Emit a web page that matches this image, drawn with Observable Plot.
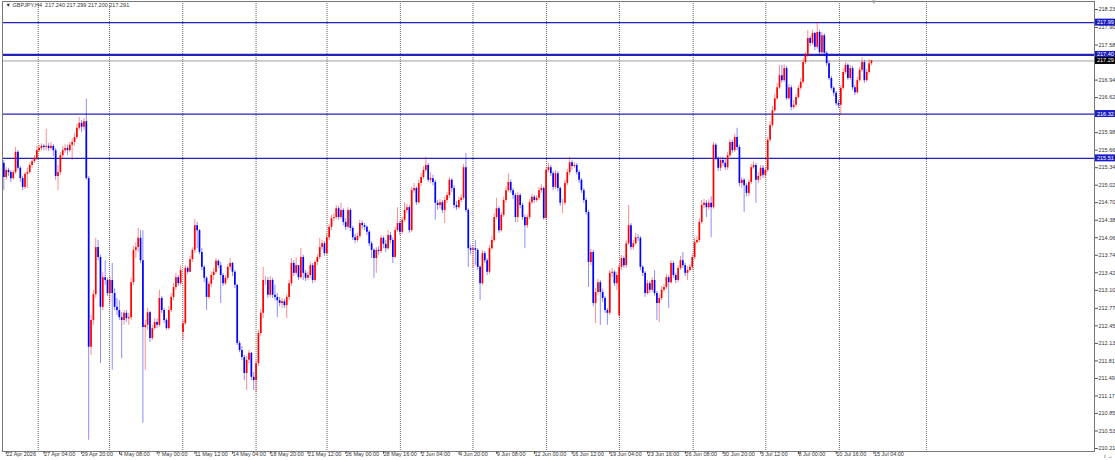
<!DOCTYPE html>
<html><head><meta charset="utf-8">
<script src="https://cdn.jsdelivr.net/npm/d3@7"></script>
<script src="https://cdn.jsdelivr.net/npm/@observablehq/plot@0.6"></script>
<style>html,body{margin:0;padding:0;background:#fff;} #chart{width:1115px;height:460px;overflow:hidden}</style>
</head><body><div id="chart"></div>
<script>
const symbol = "GBPJPY,H4";
const lastQuote = ["217.240", "217.299", "217.200", "217.291"];
const firstOpen = 215.42;
const gapBars = [76, 261];
const gapOpens = [212.33, 212.64];
const closes = [
215.16,215.29,215.25,215.14,215.25,215.62,215.33,215.14,214.98,215.22,
215.25,215.38,215.45,215.51,215.65,215.69,215.73,215.71,215.73,215.69,
215.73,215.65,215.18,215.25,215.56,215.65,215.69,215.65,215.75,215.80,
215.89,216.06,216.15,216.08,216.18,215.14,212.06,212.55,213.02,213.88,
213.70,212.79,213.33,213.28,213.04,213.28,213.04,212.79,212.73,212.60,
212.55,212.68,212.58,212.60,213.24,213.83,213.88,214.05,213.64,212.42,
212.46,212.69,212.22,212.40,212.51,212.46,212.95,212.73,212.55,212.40,
212.73,212.97,213.15,213.33,213.22,213.46,212.49,213.50,213.43,213.66,
213.83,214.28,214.19,213.79,213.52,213.32,212.97,213.21,213.37,213.43,
213.63,213.55,213.37,213.22,213.32,213.52,213.59,213.43,213.19,212.13,
212.00,211.87,211.58,211.82,211.95,211.51,211.45,211.76,212.31,212.68,
213.28,213.28,213.01,213.28,213.01,212.97,212.91,212.86,212.89,212.82,
212.97,213.22,213.59,213.41,213.55,213.33,213.70,213.41,213.32,213.37,
213.55,213.28,213.61,213.70,213.88,213.95,213.77,214.06,214.25,214.41,
214.43,214.59,214.43,214.56,214.34,214.25,214.56,214.23,214.06,214.01,
214.08,214.32,214.28,214.25,214.16,213.95,213.83,213.68,213.83,213.81,
214.05,213.94,213.86,214.10,214.01,213.70,214.19,214.32,214.16,214.38,
214.56,214.61,214.19,214.92,214.96,214.70,215.05,215.16,215.29,215.38,
215.11,215.14,215.07,214.69,214.65,214.70,214.56,214.74,214.83,215.11,
214.96,214.65,214.61,214.74,214.78,215.34,214.56,213.86,213.83,213.86,
213.83,213.52,213.22,213.77,213.64,213.43,213.86,214.01,214.43,214.59,
214.19,214.47,214.74,214.92,215.07,214.92,214.83,214.43,214.83,214.65,
214.43,214.28,214.43,214.70,214.80,214.74,214.78,214.92,214.96,214.41,
215.29,215.34,215.23,214.98,215.23,214.96,214.69,214.69,215.05,215.25,
215.43,215.36,215.38,215.25,215.11,214.92,214.74,214.52,213.61,213.79,
212.86,213.06,213.24,213.06,212.95,212.73,212.68,213.41,213.43,213.22,
213.37,213.52,213.68,213.55,213.95,214.28,213.88,213.95,214.06,214.05,
213.52,213.41,213.04,213.22,213.10,213.28,213.04,212.86,212.95,213.10,
213.15,213.33,213.24,213.59,213.37,213.28,213.50,213.64,213.55,213.41,
213.46,213.52,213.70,213.97,214.01,214.34,214.65,214.69,214.61,214.69,
214.61,215.75,215.51,215.33,215.47,215.42,215.34,215.56,215.80,215.65,
215.89,215.71,215.05,215.11,215.01,214.87,215.07,215.34,215.38,215.11,
215.18,215.33,215.20,215.29,215.84,216.11,216.38,216.60,216.80,217.02,
216.93,217.15,216.60,216.80,216.44,216.48,216.62,216.79,216.90,217.26,
217.39,217.70,217.61,217.79,217.54,217.81,217.44,217.75,217.43,217.24,
216.97,216.79,216.70,216.51,216.48,216.79,217.08,217.21,216.97,217.15,
216.80,216.71,216.93,217.12,217.26,216.93,217.08,217.24,217.291
];
const highs = [
215.47,215.34,215.33,215.29,215.29,215.71,215.65,215.36,215.18,215.25,
215.33,215.43,215.51,215.56,215.73,215.75,215.78,215.76,216.04,215.78,
215.80,215.76,215.69,215.38,215.62,215.73,215.76,215.75,215.80,215.87,
215.96,216.13,216.26,216.20,216.24,216.59,215.18,212.64,213.10,214.05,
214.01,213.74,213.43,213.64,213.32,213.35,213.59,213.13,212.95,212.91,
212.69,212.73,212.73,212.68,213.32,213.90,213.97,214.23,214.19,214.19,
212.55,212.77,212.72,212.46,212.58,212.58,213.10,212.99,212.77,212.58,
212.80,213.04,213.22,213.41,213.37,213.55,212.55,213.55,213.53,213.72,
213.88,214.39,214.34,214.21,213.86,213.55,213.35,213.26,213.44,213.50,
213.68,213.66,213.61,213.41,213.37,213.57,213.68,213.61,213.46,213.21,
212.17,212.07,211.91,211.89,212.00,211.96,211.60,211.82,212.37,212.75,
213.52,213.35,213.33,213.35,213.32,213.19,213.04,212.97,212.95,212.93,
213.02,213.28,213.68,213.64,213.70,213.55,213.86,213.74,213.46,213.43,
213.61,213.59,213.64,213.75,214.05,214.01,213.99,214.14,214.30,214.47,
214.50,214.65,214.63,214.69,214.59,214.41,214.61,214.59,214.27,214.12,
214.14,214.38,214.36,214.32,214.28,214.19,213.99,213.86,213.88,213.90,
214.10,214.08,214.01,214.19,214.16,214.05,214.25,214.61,214.36,214.43,
214.70,214.67,214.65,214.98,215.05,214.99,215.11,215.23,215.36,215.53,
215.42,215.25,215.20,215.11,214.74,214.76,214.74,214.80,214.89,215.16,
215.14,215.01,214.72,214.80,214.85,215.40,215.60,214.59,213.92,213.92,
214.01,213.86,213.55,213.83,213.81,213.68,213.92,214.08,214.50,214.78,
214.63,214.52,214.80,214.99,215.23,215.12,214.96,214.87,214.89,214.87,
214.69,214.47,214.48,214.76,214.85,214.83,214.83,214.98,215.03,214.99,
215.34,215.42,215.38,215.27,215.29,215.27,214.99,214.76,215.11,215.31,
215.53,215.47,215.43,215.42,215.29,215.14,214.96,214.78,214.56,213.85,
213.83,213.13,213.30,213.28,213.12,212.99,212.77,213.46,213.50,213.46,
213.43,213.57,213.74,213.72,214.01,214.65,214.32,214.01,214.14,214.12,
214.08,213.55,213.44,213.28,213.26,213.33,213.46,213.08,213.01,213.17,
213.21,213.39,213.37,213.64,213.63,213.41,213.55,213.72,213.79,213.59,
213.53,213.57,213.75,214.05,214.08,214.41,214.74,214.76,214.74,214.76,
214.81,215.80,215.78,215.54,215.53,215.53,215.51,215.62,215.85,215.84,
215.95,216.06,215.75,215.16,215.14,215.05,215.12,215.40,215.45,215.42,
215.25,215.38,215.38,215.34,215.89,216.18,216.46,216.68,216.88,217.21,
217.21,217.22,217.19,216.86,216.84,216.57,216.68,216.84,216.97,217.33,
217.44,217.85,217.74,217.85,217.81,217.99,217.85,217.81,217.79,217.46,
217.28,217.01,216.82,216.73,216.57,216.84,217.15,217.26,217.24,217.21,
217.19,216.84,216.99,217.17,217.35,217.30,217.13,217.31,217.299
];
const lows = [
214.92,215.11,215.18,215.07,215.11,215.22,215.29,215.07,214.92,214.94,
214.96,215.22,215.33,215.42,215.47,215.62,215.65,215.65,215.65,215.64,
215.65,215.54,215.11,214.92,215.20,215.51,215.60,215.56,215.62,215.47,
215.73,215.85,216.02,215.98,216.02,215.11,210.36,211.91,212.46,212.95,
213.64,211.76,212.73,213.19,212.99,212.86,211.64,212.73,212.64,212.55,
211.85,212.46,212.51,212.46,212.55,213.19,213.68,213.79,213.59,210.67,
211.64,212.37,212.15,212.18,212.37,212.40,212.42,212.68,212.49,212.37,
212.37,212.69,212.91,213.10,213.17,213.19,212.18,212.46,213.39,213.43,
213.61,213.77,213.86,213.75,213.46,213.24,212.73,212.93,213.15,213.28,
213.39,213.50,212.86,213.17,213.19,213.28,213.46,213.35,213.13,212.09,
211.96,211.82,211.45,211.27,211.76,211.45,211.27,211.23,211.71,212.26,
212.58,213.19,212.95,212.97,212.95,212.91,212.60,212.80,212.77,212.77,
212.58,212.91,213.17,213.35,213.37,213.28,213.30,213.28,213.26,213.28,
213.32,213.22,213.24,213.55,213.66,213.83,213.72,213.74,214.01,214.19,
214.36,214.39,214.38,214.39,214.28,214.19,214.21,214.17,214.01,213.95,
213.97,214.05,214.21,214.19,214.10,213.90,213.68,213.32,213.41,213.74,
213.77,213.86,213.79,213.83,213.95,213.59,213.68,214.16,214.10,214.12,
214.34,214.50,214.14,214.16,214.87,214.65,214.67,214.99,215.12,215.25,
215.07,215.05,215.01,214.38,214.56,214.59,214.50,214.32,214.69,214.78,
214.89,214.59,214.56,214.58,214.70,214.74,214.52,213.52,213.75,213.50,
213.55,213.46,212.91,213.19,213.59,213.37,213.39,213.83,213.97,214.39,
214.14,214.16,214.43,214.69,214.89,214.87,214.76,214.34,214.34,214.59,
214.38,213.86,214.23,214.39,214.67,214.69,214.70,214.74,214.87,214.38,
214.38,215.25,215.18,214.92,214.94,214.90,214.63,214.50,214.65,215.01,
215.20,215.29,215.33,215.20,215.05,214.87,214.69,214.47,213.15,213.55,
212.80,212.49,213.01,212.46,212.88,212.68,212.46,212.64,213.33,213.17,
213.10,212.58,213.46,213.50,213.50,213.92,213.83,213.83,213.92,213.99,
213.46,213.35,212.97,213.01,213.04,213.06,212.99,212.55,212.51,212.91,
213.06,213.11,212.77,213.21,213.32,213.22,213.24,213.46,213.50,213.35,
213.28,213.43,213.46,213.66,213.94,213.97,214.30,214.59,214.43,214.56,
214.06,214.58,215.47,215.27,215.27,215.36,215.29,215.29,215.53,215.60,
215.62,215.65,214.99,214.96,214.52,214.81,214.81,215.03,215.31,214.69,
215.05,215.11,215.14,215.14,215.25,215.80,216.07,216.35,216.57,216.77,
216.88,216.90,216.57,216.57,216.38,216.40,216.44,216.59,216.75,216.86,
217.22,217.35,217.55,217.57,217.48,217.50,217.39,217.41,217.37,217.19,
216.93,216.75,216.64,216.46,216.42,216.29,216.75,217.04,216.93,216.93,
216.75,216.66,216.68,216.90,217.08,216.88,216.90,217.04,217.20
];
const levelLines = [217.99, 217.40, 216.32, 215.51];
const currentPrice = 217.29;
const priceTicks = [218.23, 217.90, 217.58, 216.94, 216.62, 215.98, 215.66, 215.34, 215.02, 214.70, 214.38, 214.06, 213.74, 213.42, 213.10, 212.77, 212.45, 212.13, 211.81, 211.49, 211.17, 210.85, 210.53, 210.21];
const dateLabels = ["22 Apr 2026", "27 Apr 04:00", "29 Apr 20:00", "4 May 08:00", "7 May 00:00", "11 May 12:00", "14 May 04:00", "18 May 20:00", "21 May 12:00", "26 May 00:00", "28 May 16:00", "2 Jun 04:00", "4 Jun 20:00", "9 Jun 08:00", "12 Jun 00:00", "16 Jun 12:00", "19 Jun 04:00", "23 Jun 16:00", "26 Jun 08:00", "30 Jun 20:00", "3 Jul 12:00", "8 Jul 00:00", "10 Jul 16:00", "15 Jul 04:00"];
const labelStep = 16;
const weekGrid = [14.6, 44.8, 75.9, 107.0, 137.1, 168.2, 199.0, 230.2, 261.1, 292.4, 323.2, 354.4, 391.3];

const bars = closes.map((c, i) => {
  let o = i === 0 ? firstOpen : closes[i - 1];
  const g = gapBars.indexOf(i);
  if (g >= 0) o = gapOpens[g];
  return {i, open: o, high: highs[i], low: lows[i], close: c, up: c >= o};
});

const RED = "#ff0000", BLUE = "#0000ff";
const FONT = "'Liberation Sans', Arial, sans-serif";

const chart = Plot.plot({
  width: 1115, height: 460,
  marginLeft: 2, marginRight: 21, marginTop: 1, marginBottom: 9,
  style: {fontFamily: FONT, fontSize: "5.5px", background: "#fff", color: "#222"},
  x: {type: "linear", domain: [-0.55, 462.6]},
  y: {domain: [210.155, 218.376]},
  marks: [
    Plot.ruleX(weekGrid, {stroke: "#666", strokeDasharray: "1,1", strokeWidth: 1}),
    Plot.ruleY(levelLines, {stroke: "#2222bb", strokeWidth: d => d === 217.40 ? 2.2 : 1.3}),
    Plot.ruleY([currentPrice], {stroke: "#a0a0a0", strokeWidth: 1}),
    Plot.ruleX(bars, {x: "i", y1: "low", y2: "high", stroke: d => d.up ? RED : BLUE, strokeWidth: 0.9, strokeOpacity: 0.5}),
    Plot.ruleX(bars, {x: "i", y1: "open", y2: "close", stroke: d => d.up ? RED : BLUE, strokeWidth: 1.7}),
    Plot.frame({stroke: "#777"}),
    Plot.axisY({anchor: "right", ticks: priceTicks, tickFormat: d => d.toFixed(2), tickSize: 3, tickPadding: 1, stroke: "#555", fill: "#333"}),
    Plot.axisX({ticks: dateLabels.map((_, k) => k * labelStep), tickFormat: v => dateLabels[Math.round(v / labelStep)], textAnchor: "start", tickSize: 3, tickPadding: -2, dx: 2.5, stroke: "#555", fill: "#333"}),
    Plot.text([`▼ ${symbol}  ${lastQuote.join(" ")}`], {frameAnchor: "top-left", dx: 3, dy: 2, lineAnchor: "top", textAnchor: "start", fill: "#333"}),
    Plot.text(["▼"], {x: [closes.length], frameAnchor: "top", lineAnchor: "top", dy: -2, fill: "#999", fontSize: 6})
  ]
});

// price label boxes on the right scale
const ys = chart.scale("y");
const svg = d3.select(chart);
const boxes = levelLines.map(v => ({v, fill: "#1c1cc8"})).concat([{v: currentPrice, fill: "#000"}]);
const g = svg.append("g").attr("text-anchor", "start");
boxes.forEach(b => {
  const yy = ys.apply(b.v);
  g.append("rect").attr("x", 1095).attr("y", yy - 3.5).attr("width", 20).attr("height", 7).attr("fill", b.fill);
  g.append("text").attr("x", 1097).attr("y", yy).attr("dy", "0.36em").attr("text-anchor", "start")
    .attr("fill", "#fff").attr("font-size", 5.5).attr("font-family", FONT).text(b.v.toFixed(2));
});

document.getElementById("chart").append(chart);
</script>
</body></html>
